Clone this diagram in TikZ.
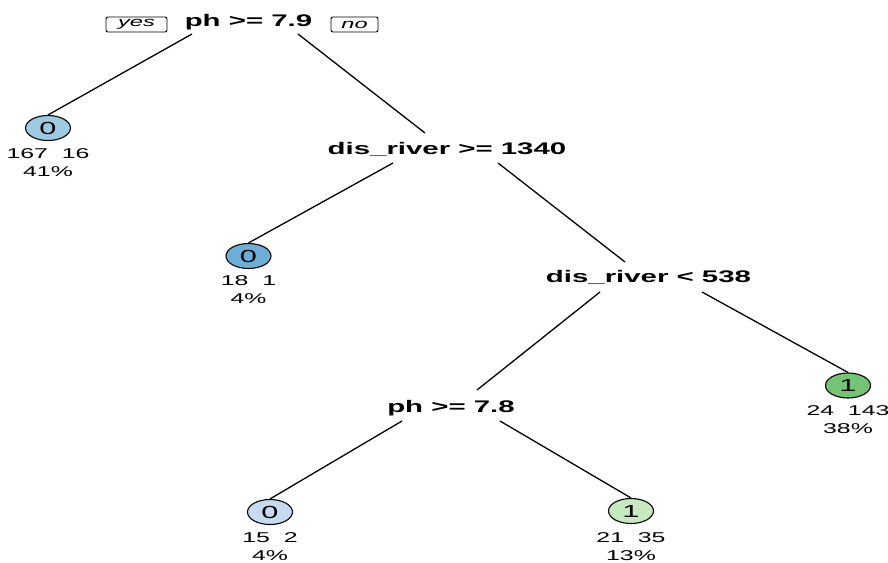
\documentclass[tikz,border=0pt]{standalone}
\usepackage{fontspec}
\newfontfamily\treefont[FakeStretch=1.75]{Liberation Sans}
\usetikzlibrary{shapes.geometric}

\definecolor{blueA}{HTML}{9ECAE1}
\definecolor{blueB}{HTML}{6BAED6}
\definecolor{blueC}{HTML}{C6DBEF}
\definecolor{greenA}{HTML}{74C476}
\definecolor{greenB}{HTML}{C7E9C0}

\tikzset{
  splitlabel/.style={anchor=base, inner sep=0pt,
    font=\treefont\fontsize{16.8}{19}\selectfont\bfseries},
  leafnode/.style={ellipse, draw=black, line width=1.1pt, inner sep=0pt,
    minimum width=45pt, minimum height=25pt,
    font=\treefont\fontsize{17.5}{19}\selectfont},
  leaftext/.style={anchor=base, inner sep=0pt,
    font=\treefont\fontsize{14.2}{16}\selectfont},
  tag/.style={draw=black, line width=0.9pt, rounded corners=2pt, inner sep=0pt,
    minimum height=15pt, font=\treefont\fontsize{13.5}{15}\selectfont\itshape},
  branch/.style={line width=1.3pt, black},
}

\begin{document}
\begin{tikzpicture}[x=1pt,y=-1pt]
\useasboundingbox (0,0) rectangle (888,562);

% split nodes
\node[splitlabel] (root) at (248.5,27) {ph >= 7.9};
\node[splitlabel] (dis1) at (447,154) {dis\_river >= 1340};
\node[splitlabel] (dis2) at (648.5,282) {dis\_river < 538};
\node[splitlabel] (ph2)  at (451,412) {ph >= 7.8};

% yes / no tags beside the root
\node[tag, minimum width=61pt] (yes) at (136.5,24.5) {yes};
\node[tag, minimum width=47pt] (no)  at (354.5,24.5) {no};

% leaves
\node[leafnode, fill=blueA]  (l1) at (48,128) {0};
\node[leaftext] (l1a) at (48,158) {167\ \ 16};
\node[leaftext] (l1b) at (48,176.5) {41\%};

\node[leafnode, fill=blueB]  (l2) at (248.5,256) {0};
\node[leaftext] (l2a) at (248.5,285) {18\ \ 1};
\node[leaftext] (l2b) at (248.5,303) {4\%};

\node[leafnode, fill=greenA] (l3) at (848,385.5) {1};
\node[leaftext] (l3a) at (848,415) {24\ \ 143};
\node[leaftext] (l3b) at (848,433) {38\%};

\node[leafnode, fill=blueC]  (l4) at (270,512) {0};
\node[leaftext] (l4a) at (270,542) {15\ \ 2};
\node[leaftext] (l4b) at (270,560) {4\%};

\node[leafnode, fill=greenB] (l5) at (631,511) {1};
\node[leaftext] (l5a) at (631,542) {21\ \ 35};
\node[leaftext] (l5b) at (631,560) {13\%};

% branches
\draw[branch] ([shift={(-56.5,7)}]root.base) -- (l1.north);
\draw[branch] ([shift={(49.5,7)}]root.base) -- ([shift={(-22,-21)}]dis1.base);
\draw[branch] ([shift={(-54,9)}]dis1.base) -- (l2.north);
\draw[branch] ([shift={(51,9)}]dis1.base) -- ([shift={(-23.5,-20)}]dis2.base);
\draw[branch] ([shift={(-48.5,10)}]dis2.base) -- ([shift={(26,-22)}]ph2.base);
\draw[branch] ([shift={(53.5,10)}]dis2.base) -- (l3.north);
\draw[branch] ([shift={(-49,9)}]ph2.base) -- (l4.north);
\draw[branch] ([shift={(49,9)}]ph2.base) -- (l5.north);
\end{tikzpicture}
\end{document}
